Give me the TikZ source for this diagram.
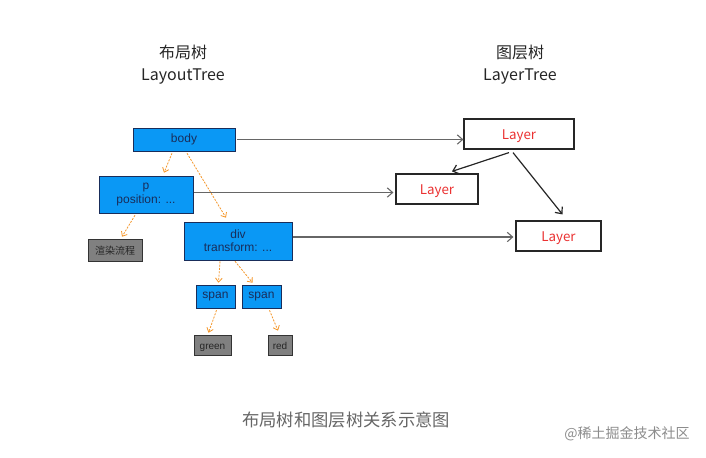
\documentclass[tikz,border=0pt]{standalone}
\usepackage{fontspec}
\setmainfont{Liberation Sans}
\newfontfamily\cjk{Noto Sans CJK SC}
\usetikzlibrary{arrows.meta,calc}
\definecolor{boxblue}{RGB}{10,152,245}
\definecolor{navy}{RGB}{25,45,90}
\definecolor{orarr}{RGB}{245,150,40}
\definecolor{lyrred}{RGB}{235,50,50}
\tikzset{
  blubox/.style={draw=navy,fill=boxblue,text=navy,font=\fontsize{9}{10}\selectfont,align=center,inner sep=0pt},
  grybox/.style={draw=black!80,fill=black!50,text=black!85,font=\fontsize{7.5}{8}\selectfont,inner sep=0pt,text height=7pt,text depth=0pt},
  lyrbox/.style={draw=black!85,line width=0.9pt,fill=white,text=lyrred,font=\cjk\fontsize{10}{11}\selectfont,inner sep=0pt,text height=8.5pt,text depth=0pt},
  oarrow/.style={draw=orarr,dash pattern=on 1.5pt off 1pt,line width=0.6pt,-{Straight Barb[length=3pt,width=5pt]}},
  garrow/.style={draw=black!60,line width=0.8pt,-{Straight Barb[length=4pt,width=7pt]}},
  barrow/.style={draw=black!85,line width=0.9pt,-{Straight Barb[length=4pt,width=7pt]}},
  ttl/.style={font=\cjk\fontsize{12}{13}\selectfont,text=black!85}
}
\begin{document}
\begin{tikzpicture}[x=0.75pt,y=-0.75pt]
      \useasboundingbox[fill=white] (0,0) rectangle (706,457);
      % titles
      \node (t1) at (183,52) [ttl] {布局树};
      \node (t2) at (183,77) [ttl] {LayoutTree};
      \node (t3) at (520,52) [ttl] {图层树};
      \node (t4) at (520,77) [ttl] {LayerTree};
      % layout tree
      \node (body) at (184,139.5) [blubox,minimum width=76.5pt,minimum height=17.25pt] {body};
      \node (p) at (146,194.5) [blubox,minimum width=70.5pt,minimum height=27.75pt] {p\\position: ...};
      \node (rnd) at (115,250) [grybox,minimum width=40.5pt,minimum height=16.5pt] {\cjk 渲染流程};
      \node (div) at (238,241) [blubox,minimum width=81pt,minimum height=28.5pt] {div\\transform: ...};
      \node (sp1) at (215.5,296.5) [blubox,minimum width=29.25pt,minimum height=17.25pt] {span};
      \node (sp2) at (261.5,296.5) [blubox,minimum width=29.25pt,minimum height=17.25pt] {span};
      \node (grn) at (212.5,345) [grybox,minimum width=27.75pt,minimum height=15pt] {green};
      \node (red) at (280,345) [grybox,minimum width=18pt,minimum height=15pt] {red};
      % layer tree
      \node (L1) at (519,134) [lyrbox,minimum width=82.5pt,minimum height=22.5pt] {Layer};
      \node (L2) at (437,189) [lyrbox,minimum width=61.5pt,minimum height=22.5pt] {Layer};
      \node (L3) at (558.5,236) [lyrbox,minimum width=63.75pt,minimum height=22.5pt] {Layer};
      % orange links
      \draw[oarrow] ($(body.south)+(-12,2)$) to ($(p.north)+(18,-3)$);
      \draw[oarrow] ($(body.south)+(3,2)$) to ($(div.north)+(-12,-4)$);
      \draw[oarrow] ($(p.south)+(-11,2)$) to ($(rnd.north)+(7,-2)$);
      \draw[oarrow] ($(div.south)+(-18,1)$) to ($(sp1.north)+(3,-2)$);
      \draw[oarrow] ($(div.south)+(-3,1)$) to ($(sp2.north)+(-9,-2)$);
      \draw[oarrow] ($(sp1.south)+(1,2)$) to ($(grn.north)+(-4,-2)$);
      \draw[oarrow] ($(sp2.south)+(8,2)$) to ($(red.north)+(-2,-4)$);
      % mapping links
      \draw[garrow] ($(body.east)+(2,0)$) to (body.east -| L1.west);
      \draw[garrow] ($(p.east)+(1,-2)$) to ($(p.east -| L2.west)+(-2,-2)$);
      \draw[garrow] ($(div.east)+(1,-4)$) to ($(div.east -| L3.west)+(-2,-4)$);
      \draw[barrow] ($(L1.south)+(-10,3)$) to ($(L2.north)+(15,-2)$);
      \draw[barrow] ($(L1.south)+(-6,3)$) to ($(L3.north)+(4,-6)$);
      % caption
      \node (cap) at (346,420) [font=\cjk\fontsize{13}{14}\selectfont,text=black!60] {布局树和图层树关系示意图};
      \node (wm) at (627,434) [font=\cjk\fontsize{10.5}{11}\selectfont,text=black!45] {@稀土掘金技术社区};
\end{tikzpicture}
\end{document}
